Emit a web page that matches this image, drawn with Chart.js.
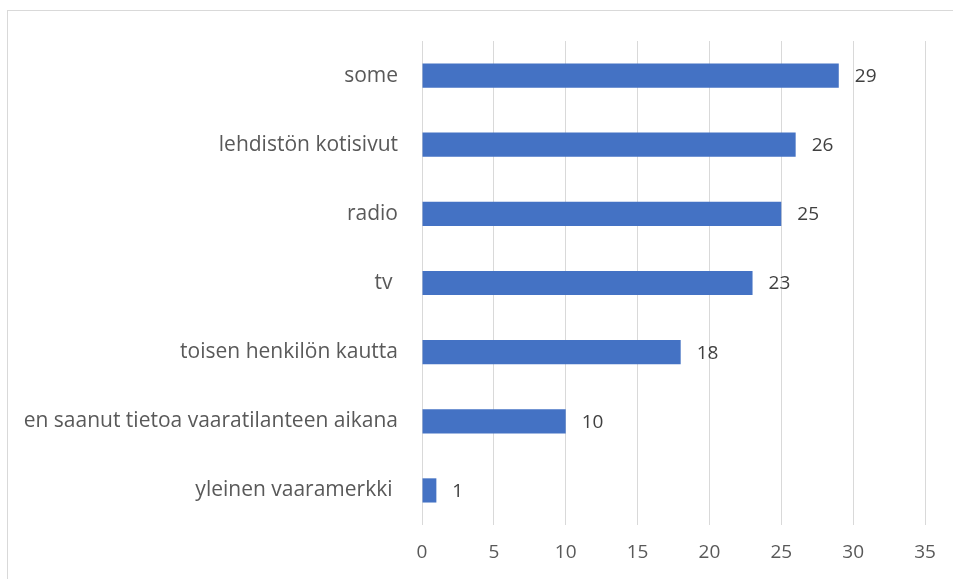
<!DOCTYPE html>
<html>
<head>
<meta charset="utf-8">
<script src="https://cdn.jsdelivr.net/npm/chart.js@4"></script>
<style>
    html, body { margin: 0; padding: 0; background: #ffffff; overflow: hidden; }
    #frame {
        position: absolute;
        left: 7px;
        top: 10px;
        width: 980px;
        height: 620px;
        border: 1px solid #d9d9d9;
    }
    #wrap { position: absolute; left: 0; top: 0; width: 953px; height: 579px; }
</style>
</head>
<body>
<div id="frame"></div>
<div id="wrap"><canvas id="barChart" width="953" height="579"></canvas></div>
<script>
// Categories (top to bottom) and values
const categories = [
    'some',
    'lehdistön kotisivut',
    'radio',
    'tv ',
    'toisen henkilön kautta',
    'en saanut tietoa vaaratilanteen aikana',
    'yleinen vaaramerkki '
];
const counts = [29, 26, 25, 23, 18, 10, 1];
const xTicks = [0, 5, 10, 15, 20, 25, 30, 35];

const FONT = "'Open Sans', 'Noto Sans', sans-serif";

// Draw value labels just past the bar ends
const valueLabels = {
    id: 'valueLabels',
    afterDatasetsDraw(chart) {
        const ctx = chart.ctx;
        const meta = chart.getDatasetMeta(0);
        ctx.save();
        ctx.font = '19px ' + FONT;
        ctx.fillStyle = '#404040';
        ctx.textAlign = 'left';
        ctx.textBaseline = 'middle';
        meta.data.forEach((bar, i) => {
            ctx.fillText(String(counts[i]), bar.x + 16, bar.y + 1);
        });
        ctx.restore();
    }
};

new Chart(document.getElementById('barChart'), {
    type: 'bar',
    data: {
        labels: categories,
        datasets: [{
            data: counts,
            backgroundColor: '#4472C4',
            borderWidth: 0,
            categoryPercentage: 1,
            barPercentage: 0.35
        }]
    },
    options: {
        indexAxis: 'y',
        responsive: false,
        animation: false,
        layout: {
            padding: { top: 41, right: 28, bottom: 0, left: 0 }
        },
        plugins: {
            legend: { display: false },
            tooltip: { enabled: false }
        },
        scales: {
            x: {
                min: 0,
                max: 35,
                afterBuildTicks: scale => {
                    scale.ticks = xTicks.map(v => ({ value: v }));
                },
                afterFit: scale => { scale.height = 54; },
                border: { display: false },
                grid: {
                    color: '#d9d9d9',
                    lineWidth: 1,
                    drawTicks: false
                },
                ticks: {
                    padding: 16,
                    color: '#595959',
                    font: { size: 19, family: FONT }
                }
            },
            y: {
                border: { display: false },
                grid: { display: false, drawTicks: false },
                afterFit: scale => { scale.width = 422; },
                ticks: {
                    padding: 24,
                    color: '#595959',
                    font: { size: 21, family: FONT }
                }
            }
        }
    },
    plugins: [valueLabels]
});
</script>
</body>
</html>
